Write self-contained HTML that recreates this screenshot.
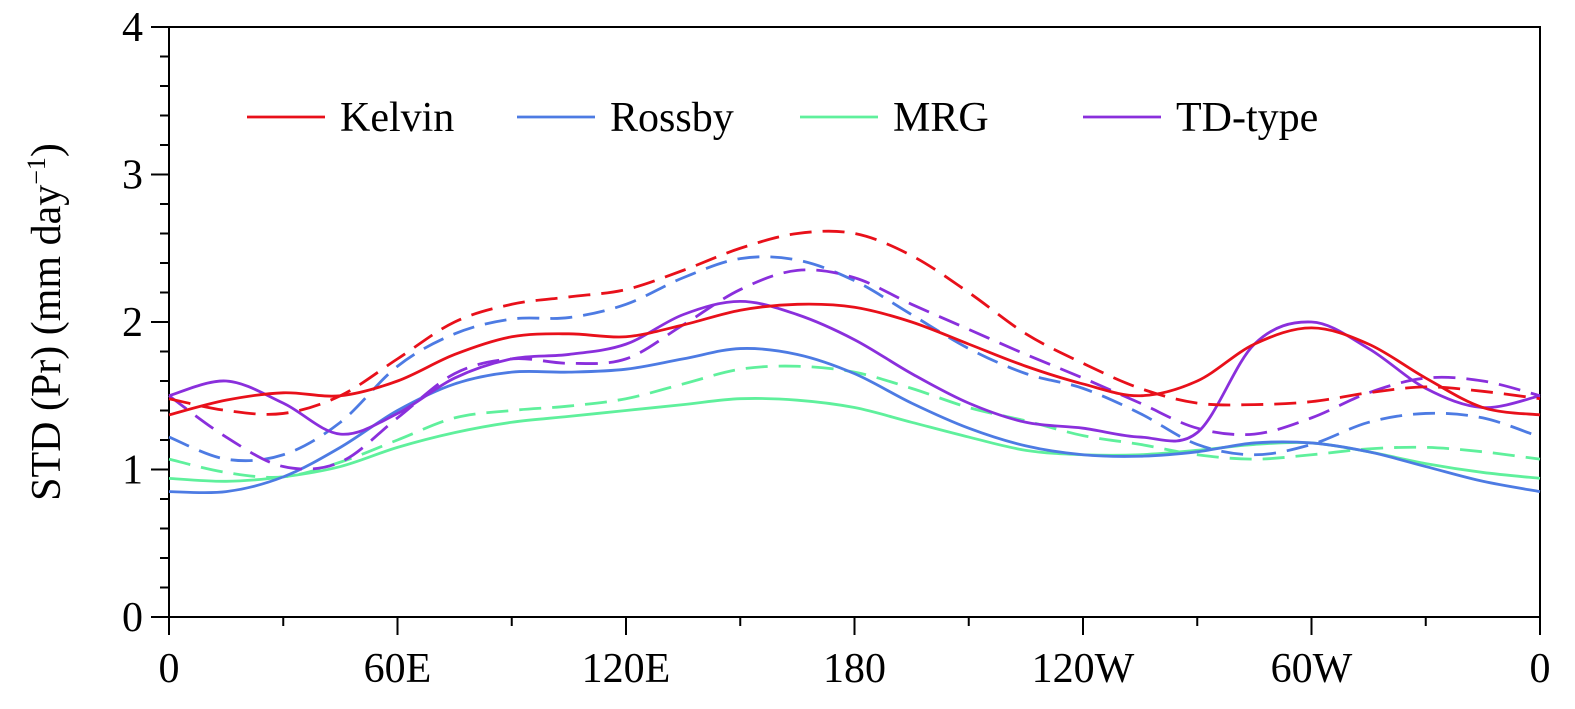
<!DOCTYPE html>
<html><head><meta charset="utf-8"><style>
html,body{margin:0;padding:0;background:#fff;}
svg{display:block;font-family:"Liberation Serif",serif;}
</style></head><body>
<svg id="chart" width="1575" height="709"></svg>
<script>
const lons=[0,15,30,45,60,75,90,105,120,135,150,165,180,195,210,225,240,255,270,285,300,315,330,345,360];
const kelvinSolid=[1.37,1.47,1.52,1.50,1.60,1.78,1.90,1.92,1.90,1.98,2.08,2.12,2.10,2.00,1.85,1.70,1.58,1.50,1.60,1.85,1.96,1.85,1.62,1.42,1.37];
const kelvinDash=[1.48,1.40,1.38,1.50,1.75,2.00,2.12,2.17,2.22,2.35,2.50,2.60,2.60,2.45,2.20,1.92,1.72,1.55,1.45,1.44,1.46,1.52,1.56,1.53,1.48];
const rossbySolid=[0.85,0.85,0.95,1.15,1.40,1.58,1.66,1.66,1.68,1.75,1.82,1.78,1.65,1.45,1.28,1.16,1.10,1.09,1.12,1.18,1.18,1.12,1.02,0.92,0.85];
const rossbyDash=[1.22,1.07,1.10,1.32,1.70,1.92,2.02,2.03,2.12,2.30,2.43,2.42,2.28,2.05,1.82,1.65,1.55,1.38,1.17,1.10,1.17,1.32,1.38,1.35,1.22];
const mrgSolid=[0.94,0.92,0.95,1.02,1.15,1.25,1.32,1.36,1.40,1.44,1.48,1.47,1.42,1.32,1.22,1.13,1.10,1.10,1.13,1.17,1.18,1.12,1.04,0.98,0.94];
const mrgDash=[1.07,0.98,0.95,1.05,1.20,1.35,1.40,1.43,1.48,1.58,1.68,1.70,1.66,1.55,1.42,1.33,1.23,1.17,1.10,1.07,1.10,1.14,1.15,1.12,1.07];
const tdSolid=[1.50,1.60,1.45,1.24,1.38,1.62,1.75,1.78,1.85,2.05,2.14,2.05,1.88,1.65,1.45,1.32,1.28,1.22,1.25,1.85,2.00,1.82,1.55,1.42,1.50];
const tdDash=[1.50,1.22,1.02,1.05,1.35,1.65,1.75,1.72,1.75,1.98,2.22,2.35,2.30,2.12,1.95,1.78,1.62,1.45,1.28,1.24,1.35,1.52,1.62,1.60,1.50];
const xTickVals=[0,60,120,180,240,300,360];
const xTickLabels=["0","60E","120E","180","120W","60W","0"];
const yTickVals=[0,1,2,3,4];
const legendNames=["Kelvin","Rossby","MRG","TD-type"];
const colors=["#e8101a","#4d7be3","#5ff09c","#8a2fdc"];

const X0=169,X1=1540,Y0=617,Y1=27;
const xs=v=>X0+(v/360)*(X1-X0);
const ys=v=>Y0-(v/4)*(Y0-Y1);
const svg=document.getElementById('chart');
const NS="http://www.w3.org/2000/svg";
function mk(tag,attrs,parent){const e=document.createElementNS(NS,tag);for(const k in attrs)e.setAttribute(k,attrs[k]);(parent||svg).appendChild(e);return e;}

const frame=mk('rect',{x:X0,y:Y1,width:X1-X0,height:Y0-Y1,fill:'none',stroke:'#000','stroke-width':2});



for(let v=0;v<=4.001;v+=0.2){
  const major=Math.abs(v-Math.round(v))<1e-6;
  const t=mk('line',{x1:X0-(major?18:9),x2:X0,y1:ys(v),y2:ys(v),stroke:'#000','stroke-width':2});
  
  
}
yTickVals.forEach(v=>{
  const t=mk('text',{x:X0-26,y:ys(v)+14,'text-anchor':'end','font-size':42});
  t.textContent=String(v);
  
  
});
for(let v=0;v<=360;v+=30){
  const major=v%60===0;
  const t=mk('line',{x1:xs(v),x2:xs(v),y1:Y0,y2:Y0+(major?18:9),stroke:'#000','stroke-width':2});
  
  
}
xTickVals.forEach((v,i)=>{
  const t=mk('text',{x:xs(v),y:682,'text-anchor':'middle','font-size':42});
  t.textContent=xTickLabels[i];
  
  
});
const yt=mk('text',{transform:'translate(60,322) rotate(-90)','text-anchor':'middle','font-size':42});
yt.innerHTML='STD (Pr) (mm day<tspan dy="-15" font-size="26">−1</tspan><tspan dy="15">)</tspan>';



function pathFor(vals){
  const p=lons.map((l,i)=>[xs(l),ys(vals[i])]);
  let d='M'+p[0][0]+','+p[0][1];
  for(let i=0;i<p.length-1;i++){
    const a=p[Math.max(0,i-1)],b=p[i],c=p[i+1],e=p[Math.min(p.length-1,i+2)];
    const c1=[b[0]+(c[0]-a[0])/6,b[1]+(c[1]-a[1])/6];
    const c2=[c[0]-(e[0]-b[0])/6,c[1]-(e[1]-b[1])/6];
    d+=` C${c1[0]},${c1[1]} ${c2[0]},${c2[1]} ${c[0]},${c[1]}`;
  }
  return d;
}
const series=[[mrgDash,2,true,'mrg-dashed'],[mrgSolid,2,false,'mrg-solid'],[rossbyDash,1,true,'rossby-dashed'],[rossbySolid,1,false,'rossby-solid'],[tdDash,3,true,'td-dashed'],[tdSolid,3,false,'td-solid'],[kelvinDash,0,true,'kelvin-dashed'],[kelvinSolid,0,false,'kelvin-solid']];
series.forEach(s=>{
  const a={d:pathFor(s[0]),fill:'none',stroke:colors[s[1]],'stroke-width':2.8};
  if(s[2])a['stroke-dasharray']='22,11';
  const e=mk('path',a);
  
  
});
const legX=[247,517,800,1083];
legendNames.forEach((n,i)=>{
  const g=mk('g',{});
  
  
  mk('line',{x1:legX[i],x2:legX[i]+78,y1:117,y2:117,stroke:colors[i],'stroke-width':2.8},g);
  const t=mk('text',{x:legX[i]+93,y:131,'font-size':42},g);
  t.textContent=n;
});
</script>
</body></html>
